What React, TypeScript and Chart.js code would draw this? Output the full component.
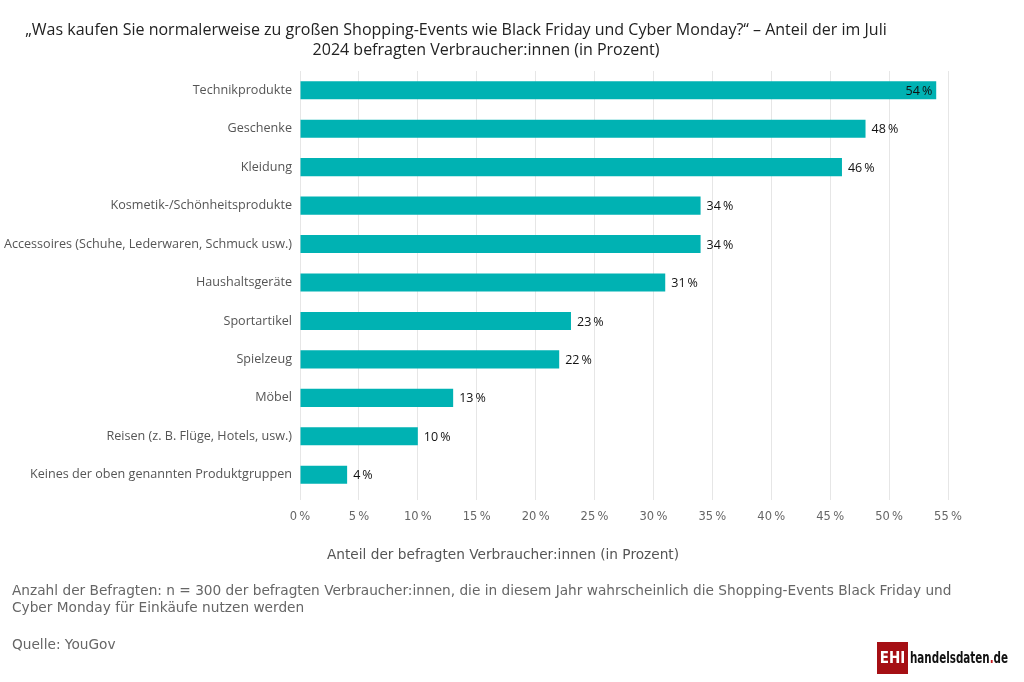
import React, { useEffect, useRef } from "react";
import { Chart, registerables } from "chart.js";

Chart.register(...registerables);

const categories: string[] = [
  "Technikprodukte",
  "Geschenke",
  "Kleidung",
  "Kosmetik-/Schönheitsprodukte",
  "Accessoires (Schuhe, Lederwaren, Schmuck usw.)",
  "Haushaltsgeräte",
  "Sportartikel",
  "Spielzeug",
  "Möbel",
  "Reisen (z. B. Flüge, Hotels, usw.)",
  "Keines der oben genannten Produktgruppen",
];
const values: number[] = [54, 48, 46, 34, 34, 31, 23, 22, 13, 10, 4];
const xTickValues: number[] = [0, 5, 10, 15, 20, 25, 30, 35, 40, 45, 50, 55];

const titleLines: string[] = [
  "„Was kaufen Sie normalerweise zu großen Shopping-Events wie Black Friday und Cyber Monday?“ – Anteil der im Juli",
  "2024 befragten Verbraucher:innen (in Prozent)",
];
const xAxisTitle = "Anteil der befragten Verbraucher:innen (in Prozent)";
const footnoteLines: string[] = [
  "Anzahl der Befragten: n = 300 der befragten Verbraucher:innen, die in diesem Jahr wahrscheinlich die Shopping-Events Black Friday und",
  "Cyber Monday für Einkäufe nutzen werden",
];
const sourceText = "Quelle: YouGov";

const BAR_COLOR = "#00b2b3";

const decorPlugin = {
  id: "decor",
  afterDatasetsDraw(chart: any) {
    const ctx = chart.ctx;
    const meta = chart.getDatasetMeta(0);
    const area = chart.chartArea;
    ctx.save();
    ctx.font = "12.5px 'Open Sans', sans-serif";
    ctx.fillStyle = "#111111";
    ctx.textBaseline = "middle";
    meta.data.forEach((bar: any, i: number) => {
      const txt = values[i] + "\u2009%";
      const w = ctx.measureText(txt).width;
      if (bar.x + 6 + w > area.right - 8) {
        ctx.textAlign = "right";
        ctx.fillText(txt, bar.x - 4, bar.y + 1);
      } else {
        ctx.textAlign = "left";
        ctx.fillText(txt, bar.x + 6, bar.y + 1);
      }
    });
    ctx.restore();
  },
  afterDraw(chart: any) {
    const ctx = chart.ctx;
    ctx.save();
    // Title
    ctx.font = "16px 'Open Sans', sans-serif";
    ctx.fillStyle = "#222222";
    ctx.textAlign = "center";
    ctx.textBaseline = "middle";
    ctx.fillText(titleLines[0], 456, 30);
    ctx.fillText(titleLines[1], 486, 50);
    // X axis title
    ctx.font = "13.7px 'DejaVu Sans', sans-serif";
    ctx.fillStyle = "#555555";
    ctx.fillText(xAxisTitle, 503, 555);
    // Footnotes
    ctx.font = "13.7px 'DejaVu Sans', sans-serif";
    ctx.fillStyle = "#666666";
    ctx.textAlign = "left";
    ctx.fillText(footnoteLines[0], 12, 591, 940);
    ctx.fillText(footnoteLines[1], 12, 608);
    ctx.fillText(sourceText, 12, 645);
    // Logo
    ctx.fillStyle = "#a50f14";
    ctx.fillRect(877, 642, 31, 32);
    ctx.fillStyle = "#ffffff";
    ctx.font = "bold 15px 'DejaVu Sans Condensed', sans-serif";
    ctx.textAlign = "center";
    ctx.fillText("EHI", 892.5, 659, 28);
    ctx.fillStyle = "#111111";
    ctx.textAlign = "left";
    ctx.font = "bold 16px 'Liberation Sans Narrow', 'DejaVu Sans Condensed', sans-serif";
    const main = "handelsdaten";
    const total = "handelsdaten.de";
    const fullW = ctx.measureText(total).width;
    const scale = Math.min(1, 98 / fullW);
    ctx.translate(910, 659);
    ctx.scale(scale, 1);
    ctx.fillText(main, 0, 0);
    const mw = ctx.measureText(main).width;
    ctx.fillStyle = "#c4161c";
    ctx.fillText(".", mw, 0);
    const dw = ctx.measureText(".").width;
    ctx.fillStyle = "#111111";
    ctx.fillText("de", mw + dw, 0);
    ctx.restore();
  },
};

export default function App() {
  const canvasRef = useRef<HTMLCanvasElement | null>(null);

  useEffect(() => {
    document.body.style.margin = "0";
    const canvas = canvasRef.current;
    if (!canvas) return;
    const chart = new Chart(canvas, {
      type: "bar",
      data: {
        labels: categories,
        datasets: [
          {
            data: values,
            backgroundColor: BAR_COLOR,
            borderWidth: 0,
            categoryPercentage: 1,
            barPercentage: 0.47,
          },
        ],
      },
      options: {
        indexAxis: "y",
        animation: false,
        responsive: false,
        maintainAspectRatio: false,
        layout: { padding: { top: 71, right: 76, bottom: 108, left: 0 } },
        plugins: {
          legend: { display: false },
          tooltip: { enabled: false },
          title: { display: false },
        },
        scales: {
          x: {
            min: 0,
            max: 55,
            afterFit(scale: any) {
              scale.height = 80;
            },
            afterBuildTicks(scale: any) {
              scale.ticks = xTickValues.map((v) => ({ value: v }));
            },
            grid: {
              color: "#e6e6e6",
              lineWidth: 1,
              drawTicks: true,
              tickLength: 6,
            },
            border: { display: false },
            ticks: {
              padding: 10,
              color: "#666666",
              font: { family: "'DejaVu Sans', sans-serif", size: 11.5 },
              callback: (v: any) => v + "\u2009%",
            },
            title: { display: false },
          },
          y: {
            afterFit(scale: any) {
              scale.width = 300;
            },
            grid: { display: false, drawTicks: false },
            border: { display: false },
            ticks: {
              padding: 8,
              color: "#555555",
              font: { family: "'Open Sans', sans-serif", size: 12.6 },
            },
          },
        },
      },
      plugins: [decorPlugin],
    } as any);
    return () => chart.destroy();
  }, []);

  return (
    <div style={{ width: 1024, height: 682, position: "relative", background: "#fff" }}>
      <canvas ref={canvasRef} width={1024} height={682} style={{ display: "block" }} />
    </div>
  );
}
